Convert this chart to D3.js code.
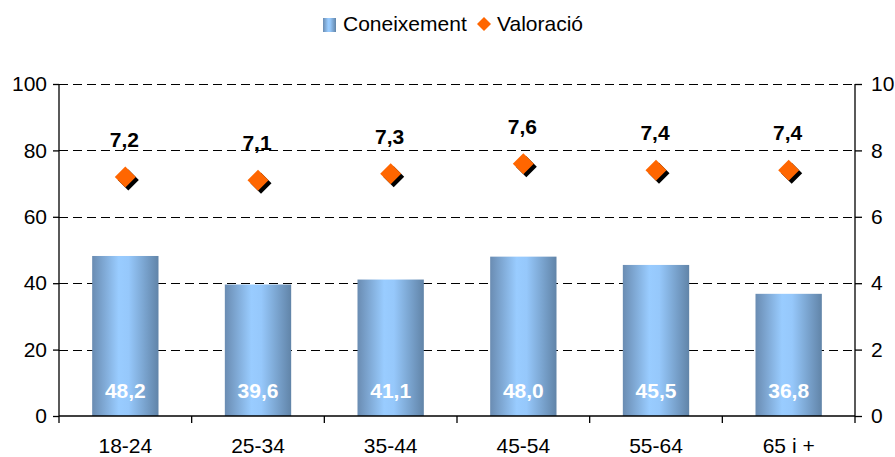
<!DOCTYPE html>
<html>
<head>
<meta charset="utf-8">
<script src="https://cdn.jsdelivr.net/npm/d3@7"></script>
<style>
  body { margin: 0; background: #fff; }
  svg { display: block; font-family: "Liberation Sans", Arial, sans-serif; }
</style>
</head>
<body>
<svg id="chart" width="895" height="457"></svg>
<script>
// Age groups and survey results
const categories = ["18-24", "25-34", "35-44", "45-54", "55-64", "65 i +"];
const coneixement = [48.2, 39.6, 41.1, 48.0, 45.5, 36.8];   // % (left axis)
const valoracio = [7.2, 7.1, 7.3, 7.6, 7.4, 7.4];           // 0-10 (right axis)
const leftTicks = [0, 20, 40, 60, 80, 100];
const rightTicks = [0, 2, 4, 6, 8, 10];
const seriesNames = ["Coneixement", "Valoració"];

const fmt = v => v.toFixed(1).replace(".", ",");

const svg = d3.select("#chart");
const margin = { left: 59, right: 40, top: 84, bottom: 41 };
const W = 895, H = 457;
const x0 = margin.left, x1 = W - margin.right;
const y0 = H - margin.bottom, y1 = margin.top;

const x = d3.scaleBand().domain(categories).range([x0, x1]).paddingInner(0.5).paddingOuter(0.25);
const band = d3.scaleBand().domain(categories).range([x0, x1]);
const yL = d3.scaleLinear().domain([0, 100]).range([y0, y1]);
const yR = d3.scaleLinear().domain([0, 10]).range([y0, y1]);

// Bar fill: cylinder-like horizontal gradient
const defs = svg.append("defs");
const grad = defs.append("linearGradient").attr("id", "barGrad")
  .attr("x1", "0%").attr("x2", "100%").attr("y1", "0%").attr("y2", "0%");
[["0%", "#6a8cb2"], ["40%", "#99ccff"], ["55%", "#96c8fb"], ["100%", "#6184a8"]]
  .forEach(([o, c]) => grad.append("stop").attr("offset", o).attr("stop-color", c));

// Dashed gridlines
svg.append("g").selectAll("line")
  .data(leftTicks.filter(t => t > 0))
  .join("line")
  .attr("x1", x0).attr("x2", x1)
  .attr("y1", d => Math.round(yL(d)) + 0.5).attr("y2", d => Math.round(yL(d)) + 0.5)
  .attr("stroke", "#000").attr("stroke-width", 1).attr("stroke-dasharray", "9,5");

// Bars
svg.append("g").selectAll("rect")
  .data(coneixement)
  .join("rect")
  .attr("x", (d, i) => x(categories[i]))
  .attr("width", x.bandwidth())
  .attr("y", d => yL(d))
  .attr("height", d => y0 - yL(d))
  .attr("fill", "url(#barGrad)");

// Bar value labels
svg.append("g").selectAll("text")
  .data(coneixement)
  .join("text")
  .attr("x", (d, i) => x(categories[i]) + x.bandwidth() / 2)
  .attr("y", y0 - 18)
  .attr("text-anchor", "middle")
  .attr("font-size", 21).attr("font-weight", "bold").attr("fill", "#fff")
  .text(fmt);

// Axes
const axL = d3.axisLeft(yL).tickValues(leftTicks).tickSize(6).tickPadding(6).tickFormat(d3.format("d"));
const axR = d3.axisRight(yR).tickValues(rightTicks).tickSize(7).tickPadding(9).tickFormat(d3.format("d"));
const axB = d3.axisBottom(band).tickSize(0).tickPadding(22);

function styleAxis(g) {
  g.selectAll("path").attr("stroke", "#000").attr("stroke-width", 1.3);
  g.selectAll("line").attr("stroke", "#000").attr("stroke-width", 1.3);
  g.selectAll("text").attr("font-size", 21).attr("fill", "#000").attr("font-family", "Liberation Sans, Arial, sans-serif");
}

svg.append("g").attr("transform", `translate(${x0},0)`).call(axL).call(g => g.select(".domain").attr("d", `M0,${y1}V${y0}`)).call(styleAxis);
svg.append("g").attr("transform", `translate(${x1},0)`).call(axR).call(g => g.select(".domain").attr("d", `M0,${y1}V${y0}`)).call(styleAxis);
const gB = svg.append("g").attr("transform", `translate(0,${y0})`).call(axB).call(styleAxis);
gB.select(".domain").attr("d", `M${x0},0H${x1}`);
// category separators below the axis
gB.selectAll(".sep").data(d3.range(categories.length + 1)).join("line")
  .attr("class", "sep")
  .attr("x1", i => x0 + i * band.bandwidth()).attr("x2", i => x0 + i * band.bandwidth())
  .attr("y1", 0).attr("y2", 7).attr("stroke", "#000").attr("stroke-width", 1.3);

// Diamond markers with dark drop shadow
const dsize = 10.5;
const diamond = `M0,${-dsize}L${dsize},0L0,${dsize}L${-dsize},0Z`;
const gm = svg.append("g");
gm.selectAll("path.shadow").data(valoracio).join("path").attr("class", "shadow")
  .attr("d", diamond).attr("fill", "#000")
  .attr("transform", (d, i) => `translate(${band(categories[i]) + band.bandwidth() / 2 + 3},${yR(d) + 3})`);
gm.selectAll("path.mark").data(valoracio).join("path").attr("class", "mark")
  .attr("d", diamond).attr("fill", "#ff6600")
  .attr("transform", (d, i) => `translate(${band(categories[i]) + band.bandwidth() / 2},${yR(d)})`);
gm.selectAll("text").data(valoracio).join("text")
  .attr("x", (d, i) => band(categories[i]) + band.bandwidth() / 2 - 1)
  .attr("y", d => yR(d) - 30)
  .attr("text-anchor", "middle")
  .attr("font-size", 21).attr("font-weight", "bold").attr("fill", "#000")
  .text(fmt);

// Legend
const lg = svg.append("g");
lg.append("rect").attr("x", 323).attr("y", 18).attr("width", 13).attr("height", 14).attr("fill", "url(#barGrad)");
lg.append("text").attr("x", 343).attr("y", 31).attr("font-size", 21).text(seriesNames[0]);
lg.append("path").attr("d", "M0,-7L7,0L0,7L-7,0Z").attr("fill", "#ff6600").attr("transform", "translate(484,24)");
lg.append("text").attr("x", 497).attr("y", 31).attr("font-size", 21).text(seriesNames[1]);
</script>
</body>
</html>
